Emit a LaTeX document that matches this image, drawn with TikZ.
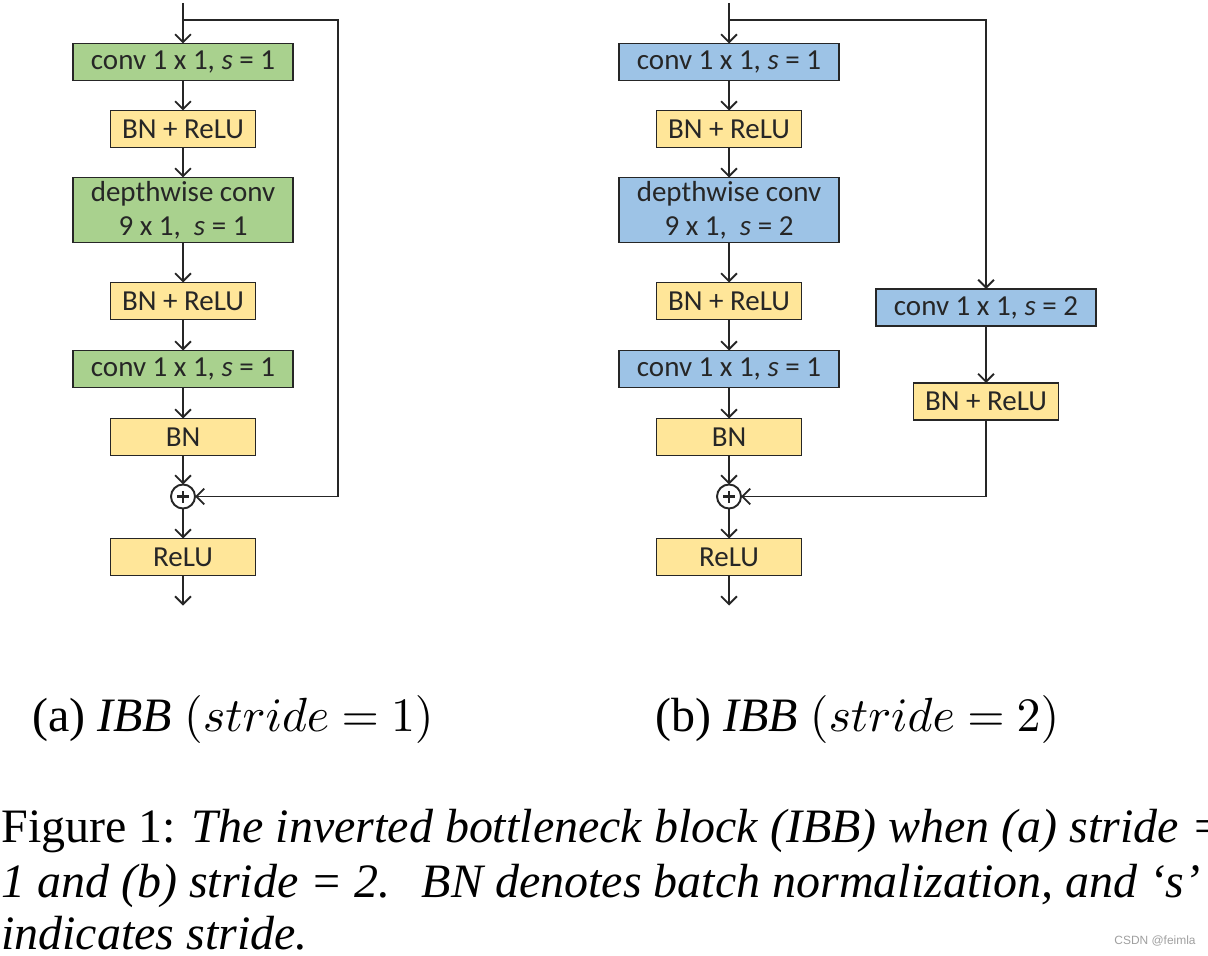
\documentclass[tikz,border=0pt]{standalone}
\usepackage[no-math]{fontspec}
\setmainfont{Liberation Serif}
\newfontfamily\boxfont{Carlito}
\newfontfamily\wmfont{Liberation Sans}
\DeclareFontShape{OML}{cmm}{m}{it}{<->cmmi10}{}
\DeclareFontShape{OT1}{cmr}{m}{n}{<->cmr10}{}
\usetikzlibrary{positioning, calc, arrows.meta}

\definecolor{convgreen}{HTML}{A9D18E}
\definecolor{convblue}{HTML}{9DC3E6}
\definecolor{bnyellow}{HTML}{FFE699}
\definecolor{linegray}{HTML}{262626}

\begin{document}
\begin{tikzpicture}[
  %% caixas de convolucao
  cbox/.style={
    rectangle, draw=linegray, line width=1.1pt, outer sep=0pt,
    minimum width=4.4cm, minimum height=0.74cm,
    inner sep=1pt, align=center, text=linegray,
    font=\boxfont\fontsize{16.5}{19.5}\selectfont
  },
  %% caixas BN / ReLU
  ybox/.style={
    cbox, fill=bnyellow, minimum width=2.9cm
  },
  %% soma
  sumnode/.style={
    circle, draw=linegray, line width=1.1pt, outer sep=0pt,
    minimum size=0.48cm, inner sep=0pt,
    path picture={
      \draw[line width=1.6pt, linegray]
        ($(path picture bounding box.center)+(-0.12,0)$) --
        ($(path picture bounding box.center)+(0.12,0)$)
        ($(path picture bounding box.center)+(0,-0.12)$) --
        ($(path picture bounding box.center)+(0,0.12)$);
    }
  },
  %% setas
  arr/.style={-{Straight Barb[length=4.5pt,width=9pt]}, line width=1.1pt, draw=linegray},
  %% legendas
  captext/.style={font=\fontsize{27.3}{32}\selectfont, inner sep=0pt, anchor=base west}
]
\useasboundingbox (0,0) rectangle (24.16,-19.12);

%% ================================================================
%% (a) IBB, stride = 1
%% ================================================================
\node[cbox, fill=convgreen] (conv1a) at (3.66,-1.24) {conv 1 x 1, \textit{s} = 1};
\node[ybox, below=0.6cm of conv1a] (bnra) {BN + ReLU};
\node[cbox, fill=convgreen, minimum height=1.3cm, below=0.6cm of bnra] (dwa)
  {depthwise conv\\9 x 1,\ \ \textit{s} = 1};
\node[ybox, below=0.8cm of dwa] (bnrb) {BN + ReLU};
\node[cbox, fill=convgreen, below=0.62cm of bnrb] (conv2a) {conv 1 x 1, \textit{s} = 1};
\node[ybox, below=0.62cm of conv2a] (bna) {BN};
\node[sumnode, below=0.58cm of bna] (suma) {};
\node[ybox, below=0.6cm of suma] (relua) {ReLU};

\coordinate (ina) at (3.66,-0.06);
\coordinate (skipa) at (3.66,-0.4);

\draw[arr] (ina) -- (conv1a);
\draw[arr] (conv1a) -- (bnra);
\draw[arr] (bnra) -- (dwa);
\draw[arr] (dwa) -- (bnrb);
\draw[arr] (bnrb) -- (conv2a);
\draw[arr] (conv2a) -- (bna);
\draw[arr] (bna) -- (suma);
\draw[arr] (suma) -- (relua);
\draw[arr] (relua.south) -- ++(0,-0.6);
%% atalho
\draw[arr] (skipa) -- ++(3.1,0) |- (suma);

%% ================================================================
%% (b) IBB, stride = 2
%% ================================================================
\node[cbox, fill=convblue] (conv1b) at (14.58,-1.24) {conv 1 x 1, \textit{s} = 1};
\node[ybox, below=0.6cm of conv1b] (bnrc) {BN + ReLU};
\node[cbox, fill=convblue, minimum height=1.3cm, below=0.6cm of bnrc] (dwb)
  {depthwise conv\\9 x 1,\ \ \textit{s} = 2};
\node[ybox, below=0.8cm of dwb] (bnrd) {BN + ReLU};
\node[cbox, fill=convblue, below=0.62cm of bnrd] (conv2b) {conv 1 x 1, \textit{s} = 1};
\node[ybox, below=0.62cm of conv2b] (bnb) {BN};
\node[sumnode, below=0.58cm of bnb] (sumb) {};
\node[ybox, below=0.6cm of sumb] (relub) {ReLU};

%% ramo lateral
\node[cbox, fill=convblue] (convsk) at (19.72,-6.15) {conv 1 x 1, \textit{s} = 2};
\node[ybox, below=1.14cm of convsk] (bnrsk) {BN + ReLU};

\coordinate (inb) at (14.58,-0.06);
\coordinate (skipb) at (14.58,-0.4);

\draw[arr] (inb) -- (conv1b);
\draw[arr] (conv1b) -- (bnrc);
\draw[arr] (bnrc) -- (dwb);
\draw[arr] (dwb) -- (bnrd);
\draw[arr] (bnrd) -- (conv2b);
\draw[arr] (conv2b) -- (bnb);
\draw[arr] (bnb) -- (sumb);
\draw[arr] (sumb) -- (relub);
\draw[arr] (relub.south) -- ++(0,-0.6);
\draw[arr] (skipb) -| (convsk);
\draw[arr] (convsk) -- (bnrsk);
\draw[arr] (bnrsk) |- (sumb);

%% ================================================================
%% legendas
%% ================================================================
\node[captext] (capa) at (0.64,-14.62) {(a) \textit{IBB} $(stride = 1)$};
\node[captext] (capb) at (13.1,-14.62) {(b) \textit{IBB} $(stride = 2)$};

\node[captext] (fig1) at (0.02,-16.84)
  {Figure 1: \textit{The inverted bottleneck block (IBB) when (a) stride =}};
\node[captext] (fig2) at (0.02,-17.94)
  {\textit{1 and (b) stride = 2.\hspace{0.65em}BN denotes batch normalization, and ‘s’}};
\node[captext] (fig3) at (0.02,-18.98) {\textit{indicates stride.}};

\node[font=\wmfont\fontsize{6.8}{8}\selectfont, text=gray!75, inner sep=0pt]
  (mark) at (23.1,-18.82) {CSDN @feimla};

\end{tikzpicture}
\end{document}
